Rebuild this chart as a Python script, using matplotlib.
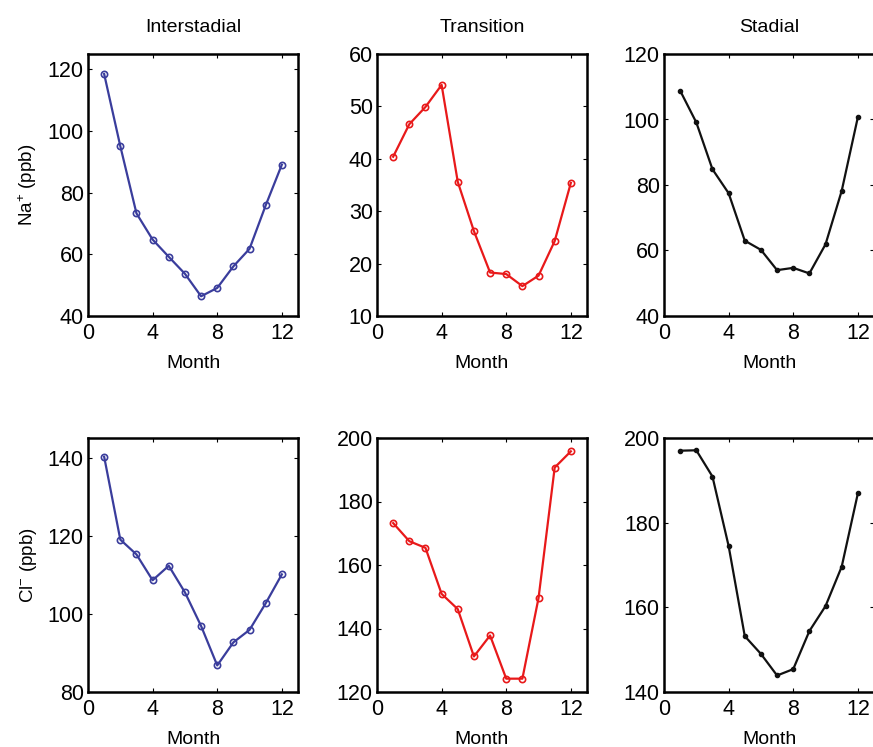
import matplotlib
matplotlib.use("Agg")
import matplotlib.pyplot as plt
import numpy as np

plt.rcParams['font.family'] = ['Liberation Sans', 'DejaVu Sans']
plt.rcParams['mathtext.fontset'] = 'custom'
plt.rcParams['mathtext.rm'] = 'Liberation Sans'
plt.rcParams['mathtext.it'] = 'Liberation Sans'

months = np.arange(1, 13)

na_inter = [118.5, 95.1, 73.3, 64.8, 59.2, 53.7, 46.4, 49.1, 56.1, 61.8, 75.9, 89.1]
na_trans = [40.4, 46.6, 49.9, 54.1, 35.6, 26.2, 18.3, 18.0, 15.7, 17.7, 24.3, 35.4]
na_stad = [108.8, 99.1, 84.8, 77.5, 63.0, 60.2, 54.0, 54.7, 53.0, 61.9, 78.2, 100.7]

cl_inter = [140.2, 119.0, 115.2, 108.6, 112.3, 105.5, 96.9, 86.8, 92.7, 95.9, 102.7, 110.1]
cl_trans = [173.2, 167.5, 165.4, 150.9, 146.1, 131.2, 137.8, 124.2, 124.2, 149.6, 190.7, 195.8]
cl_stad = [197.0, 197.1, 190.9, 174.5, 153.2, 149.0, 143.9, 145.4, 154.4, 160.3, 169.6, 186.9]

titles = ['Interstadial', 'Transition', 'Stadial']
colors = ['#3a3d9c', '#e8191a', '#111111']
na_ylims = [(40, 125), (10, 60), (40, 120)]
cl_ylims = [(80, 145), (120, 200), (140, 200)]
na_yticks = [[40, 60, 80, 100, 120], [10, 20, 30, 40, 50, 60], [40, 60, 80, 100, 120]]
cl_yticks = [[80, 100, 120, 140], [120, 140, 160, 180, 200], [140, 160, 180, 200]]

fig = plt.figure(figsize=(8.73, 7.47), dpi=100)

lefts = [88/873, 377/873, 664/873]
w = 210/873
rows = [
    (1 - 316/747, 262/747, [na_inter, na_trans, na_stad], na_ylims, na_yticks, r'Na$^{+}$ (ppb)'),
    (1 - 692/747, 254/747, [cl_inter, cl_trans, cl_stad], cl_ylims, cl_yticks, r'Cl$^{-}$ (ppb)'),
]

for r, (bot, h, series, ylims, yticks, ylab) in enumerate(rows):
    for c in range(3):
        ax = fig.add_axes([lefts[c], bot, w, h])
        if c == 2:
            ax.plot(months, series[c], '-o', color=colors[c], lw=1.6, ms=3,
                    mfc=colors[c], mec=colors[c])
        else:
            ax.plot(months, series[c], '-o', color=colors[c], lw=1.6, ms=4.5,
                    mfc='none', mec=colors[c], mew=1.2)
        ax.set_xlim(0, 13)
        ax.set_ylim(*ylims[c])
        ax.set_xticks([0, 4, 8, 12])
        ax.set_yticks(yticks[c])
        ax.tick_params(direction='in', top=True, right=True, labelsize=15.5,
                       length=3, width=0.8, pad=3)
        ax.tick_params(axis='x', pad=5)
        for s in ax.spines.values():
            s.set_linewidth(1.8)
        ax.set_xlabel('Month', fontsize=14, labelpad=8)
        if c == 0:
            ax.set_ylabel(ylab, fontsize=13.5, labelpad=6)
        if r == 0:
            ax.set_title(titles[c], fontsize=14, pad=16)

fig.savefig('out.png', dpi=100)
